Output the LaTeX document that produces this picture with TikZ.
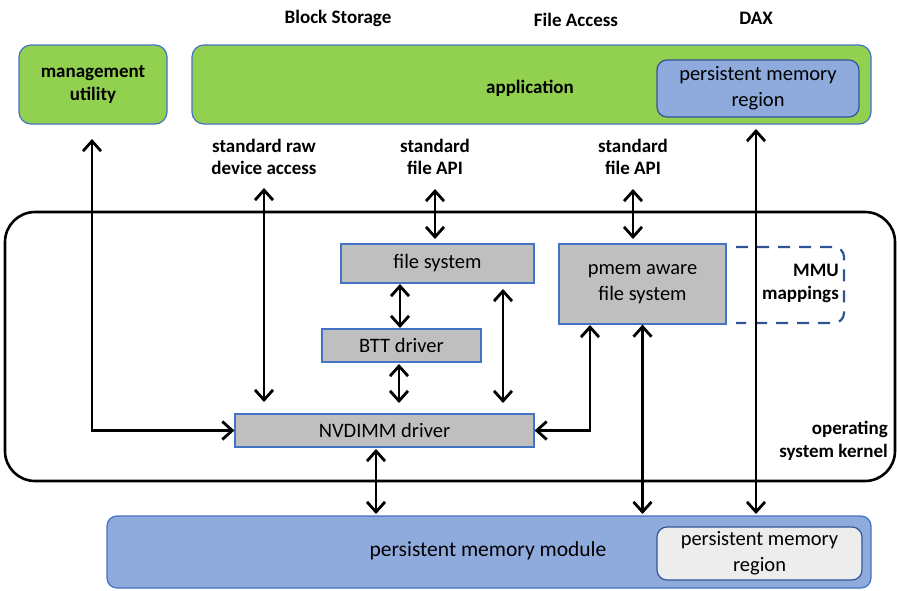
\documentclass[tikz,border=0pt]{standalone}
\usepackage{fontspec}
\setmainfont{Carlito}
\usetikzlibrary{arrows.meta}
\definecolor{lgreen}{HTML}{92D050}
\definecolor{bord}{HTML}{4472C4}
\definecolor{dblue}{HTML}{2F5597}
\definecolor{pmblue}{HTML}{8FAADC}
\definecolor{gbox}{HTML}{BFBFBF}
\definecolor{lgrey}{HTML}{EDEDED}
\tikzset{
  bl/.style={font=\fontsize{19}{22.5}\selectfont\bfseries, align=center, inner sep=0pt},
  rg/.style={font=\fontsize{20.5}{26}\selectfont, align=center, inner sep=0pt},
  greenbox/.style={draw=bord, line width=1.2pt, fill=lgreen, rounded corners=12pt, inner sep=0pt},
  greybox/.style={draw=bord, line width=1.2pt, fill=gbox, inner sep=0pt},
  arr/.style={line width=2.8pt, {Straight Barb[length=10pt,width=18pt]}-{Straight Barb[length=10pt,width=18pt]}},
}
\begin{document}
\begin{tikzpicture}[x=1pt,y=-1pt]
\useasboundingbox (0,0) rectangle (897,590);
% kernel
\node[draw=black, line width=2.6pt, rounded corners=30pt, minimum width=890pt, minimum height=269pt, inner sep=0pt] (kernel) at (450,346.5) {};
\node[bl, anchor=east, align=right] (oslab) at (888,441) {operating\\system kernel};
% top labels
\node[bl] (blk) at (338,18) {Block Storage};
\node[bl] (fa) at (576,20) {File Access};
\node[bl] (dax) at (756,18) {DAX};
% green boxes
\node[greenbox, minimum width=148pt, minimum height=79pt] (mgmt) at (93,84.5) {};
\node[bl] at (mgmt) {management\\utility};
\node[greenbox, minimum width=679pt, minimum height=79pt] (app) at (531.5,84.5) {};
\node[bl] (applab) at (530,88) {application};
\node[draw=dblue, line width=1.2pt, fill=pmblue, rounded corners=10pt, minimum width=202pt, minimum height=57pt, inner sep=0pt] (appreg) at (758,88.5) {};
\node[rg] at (appreg) {persistent memory\\region};
% api labels
\node[bl] (rawlab) at (264,157) {standard raw\\device access};
\node[bl] (apilab) at (435,157) {standard\\file API};
\node[bl] (apilabb) at (633,157) {standard\\file API};
% grey boxes
\node[greybox, minimum width=193pt, minimum height=39pt] (fs) at (437.5,263.5) {};
\node[rg] at (fs) {file system};
\node[greybox, minimum width=159pt, minimum height=33pt] (btt) at (401.5,345.5) {};
\node[rg] at (btt) {BTT driver};
\node[greybox, minimum width=299pt, minimum height=33pt] (nvdimm) at (384.5,430.5) {};
\node[rg] at (nvdimm) {NVDIMM driver};
\node[greybox, minimum width=167pt, minimum height=80pt] (pmemfs) at (642.5,284) {};
\node[rg] at (pmemfs) {pmem aware\\file system};
% MMU dashed
\draw[dblue, line width=2.2pt, dash pattern=on 12pt off 9pt, rounded corners=10pt] (736,247) -- (844,247) -- (844,323) -- (736,323);
\node[bl, anchor=east, align=right] (mmu) at (839,283.5) {MMU\\mappings};
% module
\node[draw=bord, line width=1.2pt, fill=pmblue, rounded corners=10pt, minimum width=764pt, minimum height=72pt, inner sep=0pt] (module) at (489,552) {};
\node[rg, font=\fontsize{21.5}{26}\selectfont] (modlab) at (488,551) {persistent memory module};
\node[draw=dblue, line width=1.2pt, fill=lgrey, rounded corners=10pt, minimum width=205pt, minimum height=53pt, inner sep=0pt] (modreg) at (759.5,553.5) {};
\node[rg] at (modreg) {persistent memory\\region};
% coordinates
\coordinate (mgtop) at (92,139);
\coordinate (rawtop) at (264,188);
\coordinate (rawbot) at (264,402);
\coordinate (apitop) at (435,189);
\coordinate (apibot) at (435,239);
\coordinate (bttbot) at (399,403);
\coordinate (bytop) at (503,289);
\coordinate (bybot) at (503,403);
\coordinate (apitopb) at (633,189);
\coordinate (apibotb) at (633,239);
\coordinate (pmcorner) at (590,325);
\coordinate (daxtop) at (756,129);
\coordinate (modtop) at (0,514);
% arrows
\draw[arr] (mgtop) |- (nvdimm.west);
\draw[arr] (rawtop) -- (rawbot);
\draw[arr] (apitop) -- (apibot);
\draw[arr] (400,284) -- (400,328);
\draw[arr] (399,364) -- (bttbot);
\draw[arr] (bytop) -- (bybot);
\draw[arr] (apitopb) -- (apibotb);
\draw[arr] (nvdimm.east) -| (pmcorner);
\draw[arr] (pmemfs.south) -- (pmemfs.south |- modtop);
\draw[arr] (376,449) -- (376,514);
\draw[arr] (daxtop) -- (daxtop |- modtop);
\end{tikzpicture}
\end{document}
